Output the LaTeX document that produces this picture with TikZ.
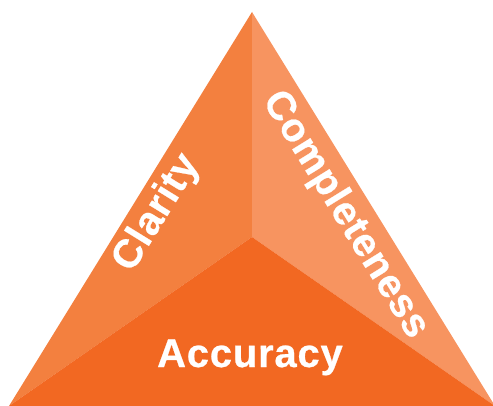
\documentclass[tikz,border=0pt]{standalone}
\usepackage{fontspec}
\setmainfont{Liberation Sans}
\newfontfamily\labelfont{Liberation Sans Bold}[FakeBold=0.6, LetterSpace=2]
\definecolor{facetL}{HTML}{F3803F}
\definecolor{facetR}{HTML}{F79460}
\definecolor{facetB}{HTML}{F26822}
\tikzset{
  label/.style={text=white, font=\labelfont\fontsize{40}{40}\selectfont, inner sep=0pt},
}
\begin{document}
\begin{tikzpicture}[x=1pt,y=-1pt]
\useasboundingbox (0,0) rectangle (493,406);
\coordinate (apex) at (252,12);
\coordinate (bl) at (9,406);
\coordinate (br) at (495,406);
\coordinate (ctr) at (252,237);
\begin{scope}
\clip (0,0) rectangle (493,406);
\fill[facetL] (apex) -- (ctr) -- (bl) -- cycle;
\fill[facetR] (apex) -- (br) -- (ctr) -- cycle;
\fill[facetB] (ctr) -- (br) -- (bl) -- cycle;
\end{scope}
\node[label, anchor=base] (accuracy) at (250,367) {Accuracy};
\node[label, rotate=58.3] (clarity) at (157,213) {Clarity};
\node[label, rotate=-58.3] (completeness) at (345,215) {Completeness};
\end{tikzpicture}
\end{document}
